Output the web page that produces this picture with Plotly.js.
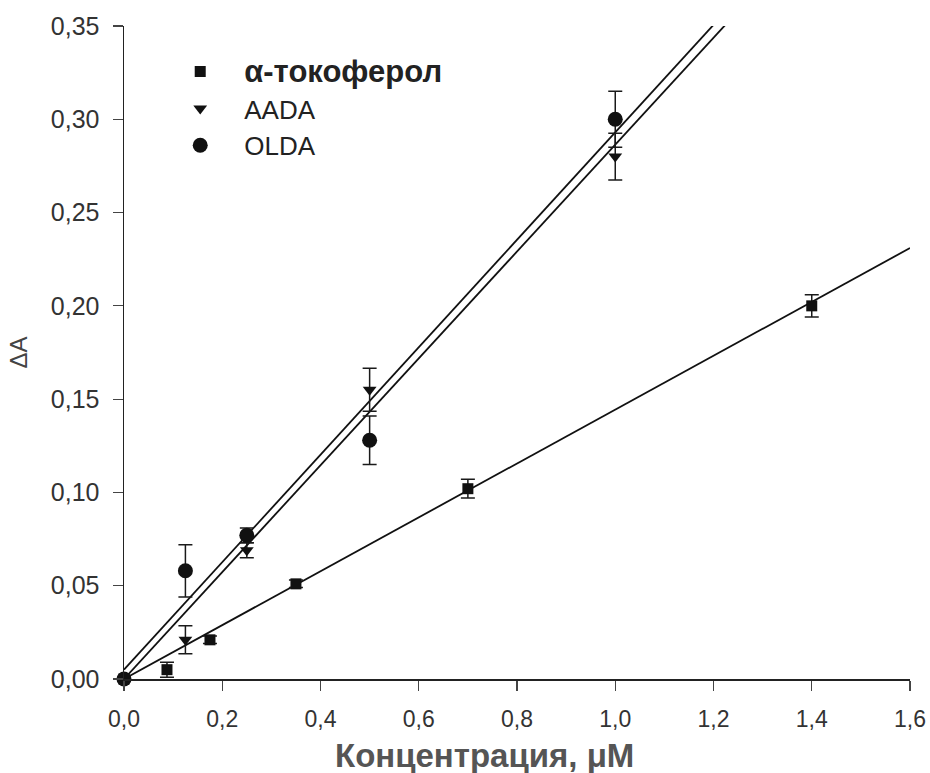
<!DOCTYPE html>
<html><head><meta charset="utf-8">
<script src="https://cdn.plot.ly/plotly-3.0.1.min.js"></script>
<style>html,body{margin:0;padding:0;background:#fff}#chart{width:930px;height:773px}</style>
</head><body><div id="chart"></div>
<script>
// Data
const tocoX = [0, 0.0875, 0.175, 0.35, 0.7, 1.4];
const tocoY = [0, 0.005, 0.021, 0.051, 0.102, 0.200];
const tocoErr = [0, 0.004, 0.002, 0.002, 0.005, 0.006];

const aadaX = [0, 0.125, 0.25, 0.5, 1.0];
const aadaY = [0, 0.021, 0.069, 0.155, 0.280];
const aadaErr = [0, 0.0075, 0.004, 0.0115, 0.0125];

const oldaX = [0, 0.125, 0.25, 0.5, 1.0];
const oldaY = [0, 0.058, 0.077, 0.128, 0.300];
const oldaErr = [0, 0.014, 0.004, 0.013, 0.015];

// Regression line end points
const tocoFitX = [0, 1.6];
const tocoFitY = [0, 0.231];
const aadaFitX = [0, 1.25];
const aadaFitY = [0, 0.358];
const oldaFitX = [0, 1.25];
const oldaFitY = [0.005, 0.365];

const legendNames = ['<span style="font-size:31px"><b>α-токоферол</b></span>', 'AADA', 'OLDA'];
const xTitle = '<b>Концентрация, μM</b>';
const yTitle = 'ΔA';

const lineStyle = {color: '#111', width: 1.8};
const errStyle = (arr) => ({type: 'data', array: arr, visible: true, color: '#1a1a1a', thickness: 1.5, width: 7});

const traces = [
  {x: tocoFitX, y: tocoFitY, mode: 'lines', line: lineStyle, showlegend: false, hoverinfo: 'skip'},
  {x: aadaFitX, y: aadaFitY, mode: 'lines', line: lineStyle, showlegend: false, hoverinfo: 'skip'},
  {x: oldaFitX, y: oldaFitY, mode: 'lines', line: lineStyle, showlegend: false, hoverinfo: 'skip'},
  {x: tocoX, y: tocoY, mode: 'markers', name: legendNames[0], error_y: errStyle(tocoErr),
   marker: {symbol: 'square', size: 11, color: '#111'}, cliponaxis: false},
  {x: aadaX, y: aadaY, mode: 'markers', name: legendNames[1], error_y: errStyle(aadaErr),
   marker: {symbol: 'triangle-down', size: 12, color: '#111'}, cliponaxis: false},
  {x: oldaX, y: oldaY, mode: 'markers', name: legendNames[2], error_y: errStyle(oldaErr),
   marker: {symbol: 'circle', size: 15, color: '#111'}, cliponaxis: false}
];

const layout = {
  width: 930, height: 773,
  margin: {l: 124, r: 20, t: 26, b: 94},
  paper_bgcolor: '#fff', plot_bgcolor: '#fff',
  separators: ', ',
  showlegend: true,
  legend: {x: 0.041, y: 0.966, xanchor: 'left', yanchor: 'top', bgcolor: 'rgba(0,0,0,0)',
           font: {family: 'Liberation Sans, Arial, sans-serif', size: 26, color: '#222'},
           tracegroupgap: 0, itemwidth: 78},
  xaxis: {
    range: [0, 1.6], dtick: 0.2, tick0: 0, tickformat: '.1f',
    showgrid: false, zeroline: false, showline: true, linecolor: '#222', linewidth: 1.5,
    ticks: 'outside', ticklen: 10, tickwidth: 1.2, tickcolor: '#444', ticklabelstandoff: 9,
    tickfont: {family: 'Liberation Sans, Arial, sans-serif', size: 23, color: '#333'}
  },
  yaxis: {
    range: [0, 0.35], dtick: 0.05, tick0: 0, tickformat: '.2f',
    showgrid: false, zeroline: false, showline: true, linecolor: '#222', linewidth: 1.5,
    ticks: 'outside', ticklen: 10, tickwidth: 1.2, tickcolor: '#444', ticklabelstandoff: 8,
    tickfont: {family: 'Liberation Sans, Arial, sans-serif', size: 25, color: '#333'},
    title: {text: yTitle, standoff: 16, font: {family: 'Liberation Sans, Arial, sans-serif', size: 24, color: '#444'}}
  },
  annotations: [{
    text: xTitle, xref: 'paper', yref: 'paper', x: 0.459, y: -0.117,
    xanchor: 'center', yanchor: 'middle', showarrow: false,
    font: {family: 'Liberation Sans, Arial, sans-serif', size: 33, color: '#555'}
  }]
};

Plotly.newPlot('chart', traces, layout, {displayModeBar: false, staticPlot: true});
</script></body></html>
